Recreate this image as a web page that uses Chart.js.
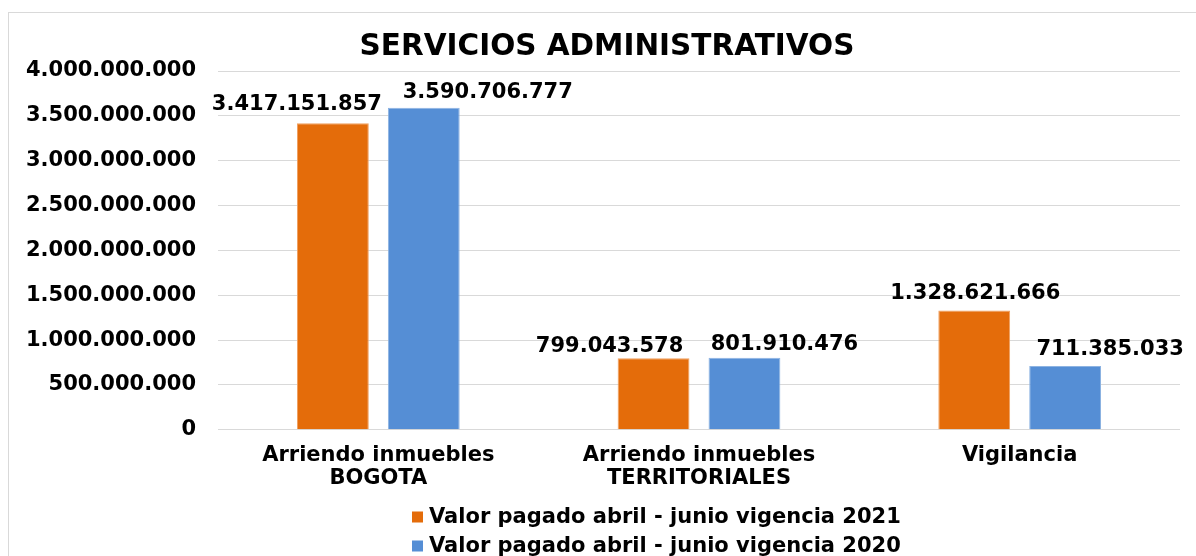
<!DOCTYPE html>
<html>
<head>
<meta charset="utf-8">
<script src="https://cdn.jsdelivr.net/npm/chart.js@4/dist/chart.umd.min.js"></script>
<style>
  html, body { margin: 0; padding: 0; background: #ffffff; }
  #wrap { width: 1196px; height: 556px; position: relative; }
</style>
</head>
<body>
<div id="wrap"><canvas id="c" width="1196" height="556"></canvas></div>
<script>
const chartTitle = 'SERVICIOS ADMINISTRATIVOS';
const categories = [['Arriendo inmuebles', 'BOGOTA'], ['Arriendo inmuebles', 'TERRITORIALES'], ['Vigilancia']];
const seriesNames = ['Valor pagado abril - junio vigencia 2021', 'Valor pagado abril - junio vigencia 2020'];
const values2021 = [3417151857, 799043578, 1328621666];
const values2020 = [3590706777, 801910476, 711385033];
const yMin = 0;
const yMax = 4000000000;
const yStep = 500000000;

const FONT = "'DejaVu Sans', Verdana, sans-serif";
const fmt = v => String(Math.round(v)).replace(/\B(?=(\d{3})+(?!\d))/g, '.');

// label nudges (x, y) relative to each bar's top centre, per dataset
const labelNudge = [
  [[-36, -13], [-44, -6], [1, -12]],
  [[64, -10], [40, -8], [45, -11]]
];

const framePlugin = {
  id: 'frame',
  beforeDraw(chart) {
    const ctx = chart.ctx;
    ctx.save();
    ctx.fillStyle = '#ffffff';
    ctx.fillRect(0, 0, chart.width, chart.height);
    ctx.strokeStyle = '#d9d9d9';
    ctx.lineWidth = 1;
    ctx.strokeRect(8.5, 12.5, chart.width + 20, chart.height + 20);
    ctx.restore();
  },
  afterDraw(chart) {
    const ctx = chart.ctx;
    ctx.save();
    ctx.font = 'bold 29.5px ' + FONT;
    ctx.fillStyle = '#000000';
    ctx.textAlign = 'center';
    ctx.textBaseline = 'middle';
    ctx.fillText(chartTitle, 607, 47);
    ctx.restore();
  }
};

const valueLabels = {
  id: 'valueLabels',
  afterDatasetsDraw(chart) {
    const ctx = chart.ctx;
    ctx.save();
    ctx.font = 'bold 21px ' + FONT;
    ctx.fillStyle = '#000000';
    ctx.textAlign = 'center';
    ctx.textBaseline = 'alphabetic';
    chart.data.datasets.forEach((ds, di) => {
      const meta = chart.getDatasetMeta(di);
      meta.data.forEach((bar, i) => {
        const n = labelNudge[di][i];
        ctx.fillText(fmt(ds.data[i]), bar.x + n[0], bar.y + n[1]);
      });
    });
    ctx.restore();
  }
};

const customLegend = {
  id: 'customLegend',
  afterDraw(chart) {
    const ctx = chart.ctx;
    ctx.save();
    ctx.font = 'bold 21px ' + FONT;
    ctx.textBaseline = 'middle';
    ctx.textAlign = 'left';
    const rows = [517, 546];
    const centerX = 656;
    chart.data.datasets.forEach((ds, di) => {
      const tw = ctx.measureText(ds.label).width;
      const box = 11, gap = 6;
      const total = box + gap + tw;
      const x0 = Math.round(centerX - total / 2);
      const y = rows[di];
      ctx.fillStyle = ds.backgroundColor;
      ctx.fillRect(x0, y - box / 2, box, box);
      ctx.fillStyle = '#000000';
      ctx.fillText(ds.label, x0 + box + gap, y + 1);
    });
    ctx.restore();
  }
};

new Chart(document.getElementById('c'), {
  type: 'bar',
  data: {
    labels: categories,
    datasets: [
      { label: seriesNames[0], data: values2021, backgroundColor: '#E46C0A', borderColor: '#F0A060', borderWidth: 1 },
      { label: seriesNames[1], data: values2020, backgroundColor: '#558ED5', borderColor: '#8DB3E2', borderWidth: 1 }
    ]
  },
  options: {
    responsive: false,
    animation: false,
    devicePixelRatio: 1,
    layout: { padding: { left: 8, right: 16, top: 71, bottom: 52 } },
    datasets: { bar: { categoryPercentage: 0.567, barPercentage: 0.79 } },
    plugins: {
      legend: { display: false },
      tooltip: { enabled: false },
      title: { display: false }
    },
    scales: {
      x: {
        grid: { display: false, drawTicks: false },
        border: { display: false },
        ticks: {
          color: '#000000',
          font: { family: FONT, size: 21, weight: 'bold', lineHeight: 1.1 },
          padding: 14,
          maxRotation: 0
        }
      },
      y: {
        min: yMin,
        max: yMax,
        afterFit(scale) { scale.width = 210; },
        grid: { color: '#d9d9d9', lineWidth: 1, drawTicks: false },
        border: { display: false },
        ticks: {
          stepSize: yStep,
          color: '#000000',
          padding: 22,
          font: { family: FONT, size: 21, weight: 'bold' },
          callback: v => fmt(v)
        }
      }
    }
  },
  plugins: [framePlugin, valueLabels, customLegend]
});
</script>
</body>
</html>
